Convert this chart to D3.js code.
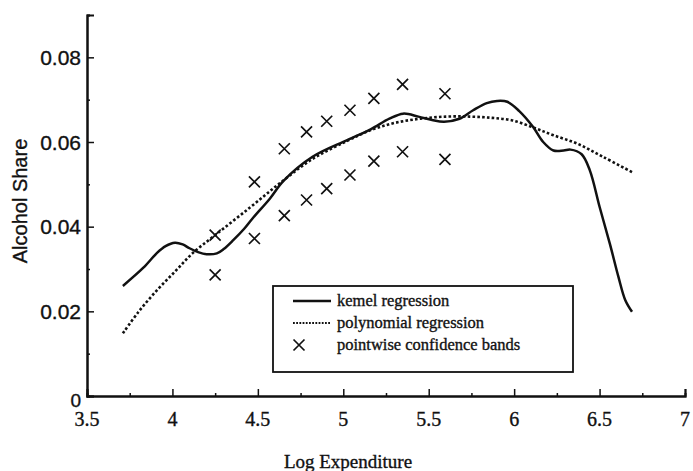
<!DOCTYPE html>
<html><head><meta charset="utf-8">
<script src="https://cdn.jsdelivr.net/npm/d3@7"></script>
<style>body{margin:0;background:#fff}svg{display:block}text{stroke:#111;stroke-width:0.35px}</style>
</head><body>
<svg id="c" width="693" height="471"></svg>
<script>
const xTicks = [3.5, 4, 4.5, 5, 5.5, 6, 6.5, 7];
const yTicks = [0, 0.02, 0.04, 0.06, 0.08];
const yTickLabels = ["0", "0.02", "0.04", "0.06", "0.08"];
const xTickLabels = ["3.5", "4", "4.5", "5", "5.5", "6", "6.5", "7"];

const kernelX = [3.71,3.83,3.91,3.96,4.015,4.06,4.10,4.15,4.20,4.26,4.30,4.356,4.42,4.47,4.57,4.65,4.82,5.02,5.16,5.27,5.35,5.44,5.52,5.59,5.68,5.76,5.84,5.90,5.96,6.03,6.11,6.17,6.23,6.29,6.33,6.395,6.443,6.50,6.56,6.61,6.65,6.69];
const kernelY = [0.026,0.0303,0.0338,0.0354,0.0362,0.0358,0.0349,0.0340,0.0335,0.0337,0.0347,0.0368,0.0395,0.0420,0.0466,0.0508,0.0565,0.0604,0.0630,0.0655,0.0667,0.0660,0.0652,0.0648,0.0655,0.0675,0.0692,0.0697,0.0695,0.0673,0.0636,0.0600,0.0580,0.0580,0.0582,0.0571,0.0533,0.0447,0.0360,0.0282,0.0227,0.0199];

const polyX = [3.71,3.80,3.91,4.02,4.12,4.25,4.45,4.63,4.82,5.02,5.16,5.30,5.45,5.60,5.74,5.87,5.99,6.12,6.23,6.37,6.52,6.69];
const polyY = [0.0148,0.0198,0.0250,0.0296,0.0338,0.0380,0.0444,0.0503,0.0560,0.0602,0.0628,0.0645,0.0655,0.0660,0.0660,0.0657,0.0651,0.0633,0.0616,0.0596,0.0565,0.0529];

const bandX = [4.25,4.48,4.655,4.785,4.903,5.039,5.179,5.347,5.595];
const bandUpper = [0.038,0.0506,0.0584,0.0624,0.0649,0.0675,0.0703,0.0736,0.0714];
const bandLower = [0.0286,0.0372,0.0426,0.0463,0.049,0.0522,0.0555,0.0577,0.0559];

const legendLabels = ["kemel regression", "polynomial regression", "pointwise confidence bands"];

const svg = d3.select("#c");
const x = d3.scaleLinear().domain([3.5, 7]).range([87, 685]);
const y = d3.scaleLinear().domain([0, 0.09]).range([396, 15]);
const ink = "#111";
const xPath = "M-5.5,-5.5L5.5,5.5M-5.5,5.5L5.5,-5.5";

// axes
const gx = svg.append("g").attr("transform", `translate(0,${y(0)})`);
gx.call(d3.axisTop(x).tickValues(d3.range(3.75, 7, 0.5)).tickSize(3).tickFormat(""));
gx.call(g => g.append("g").call(d3.axisTop(x).tickValues(xTicks).tickSize(7).tickFormat("")));
gx.selectAll("path.domain").attr("stroke", ink).attr("stroke-width", 2);
gx.selectAll("line").attr("stroke", ink).attr("stroke-width", 1.5);

const gy = svg.append("g").attr("transform", `translate(${x(3.5)},0)`);
gy.call(d3.axisRight(y).tickValues([0.01,0.03,0.05,0.07,0.09]).tickSize(3).tickFormat(""));
gy.call(g => g.append("g").call(d3.axisRight(y).tickValues(yTicks).tickSize(7).tickFormat("")));
gy.selectAll("path.domain").attr("stroke", ink).attr("stroke-width", 2);
gy.selectAll("line").attr("stroke", ink).attr("stroke-width", 1.5);

// tick labels
svg.append("g").selectAll("text").data(xTicks).join("text")
  .attr("x", d => x(d)).attr("y", 426)
  .attr("text-anchor", "middle")
  .attr("font-family", "Liberation Serif, Times New Roman, serif")
  .attr("font-size", 20).attr("fill", ink)
  .text((d, i) => xTickLabels[i]);

svg.append("g").selectAll("text").data(yTicks).join("text")
  .attr("x", x(3.5) - 6).attr("y", d => y(d) + (d === 0 ? 4 : 0))
  .attr("dy", "0.36em")
  .attr("text-anchor", "end")
  .attr("font-family", "Liberation Sans, Arial, sans-serif")
  .attr("font-size", d => d === 0 ? 19 : 21).attr("fill", ink)
  .text((d, i) => yTickLabels[i]);

// axis titles
svg.append("text").attr("x", 348).attr("y", 468).attr("text-anchor", "middle")
  .attr("font-family", "Liberation Serif, Times New Roman, serif").attr("font-size", 19)
  .attr("fill", ink).text("Log Expenditure");
svg.append("text").attr("transform", "translate(27,201) rotate(-90)").attr("text-anchor", "middle")
  .attr("font-family", "Liberation Sans, Arial, sans-serif").attr("font-size", 20)
  .attr("fill", ink).text("Alcohol Share");

// curves
const line = d3.line().x(d => x(d[0])).y(d => y(d[1])).curve(d3.curveCatmullRom.alpha(0.5));
const kernel = kernelX.map((v, i) => [v, kernelY[i]]);
const poly = polyX.map((v, i) => [v, polyY[i]]);
svg.append("path").datum(poly).attr("d", line).attr("fill", "none")
  .attr("stroke", ink).attr("stroke-width", 2.6).attr("stroke-dasharray", "2.6,2.2");
svg.append("path").datum(kernel).attr("d", line).attr("fill", "none")
  .attr("stroke", ink).attr("stroke-width", 2.5).attr("stroke-linejoin", "round");

// X markers
const bands = bandX.flatMap((v, i) => [[v, bandUpper[i]], [v, bandLower[i]]]);
svg.append("g").selectAll("path").data(bands).join("path")
  .attr("transform", d => `translate(${x(d[0])},${y(d[1])})`)
  .attr("d", xPath)
  .attr("stroke", ink).attr("stroke-width", 1.7).attr("fill", "none");

// legend
const lg = svg.append("g");
lg.append("rect").attr("x", 273).attr("y", 286).attr("width", 300).attr("height", 86)
  .attr("fill", "#fff").attr("stroke", ink).attr("stroke-width", 1.8);
const rowY = [301, 323, 345];
lg.append("line").attr("x1", 293).attr("x2", 331).attr("y1", rowY[0]).attr("y2", rowY[0])
  .attr("stroke", ink).attr("stroke-width", 2.5);
lg.append("line").attr("x1", 293).attr("x2", 331).attr("y1", rowY[1]).attr("y2", rowY[1])
  .attr("stroke", ink).attr("stroke-width", 2).attr("stroke-dasharray", "1.8,1.4");
lg.append("path").attr("transform", `translate(299,${rowY[2]})`)
  .attr("d", xPath)
  .attr("stroke", ink).attr("stroke-width", 1.7).attr("fill", "none");
lg.selectAll("text.lbl").data(legendLabels).join("text").attr("class", "lbl")
  .attr("x", 337).attr("y", (d, i) => rowY[i]).attr("dy", "0.3em")
  .attr("font-family", "Liberation Serif, Times New Roman, serif").attr("font-size", 16.5)
  .attr("fill", ink).text(d => d);
</script>
</body></html>
